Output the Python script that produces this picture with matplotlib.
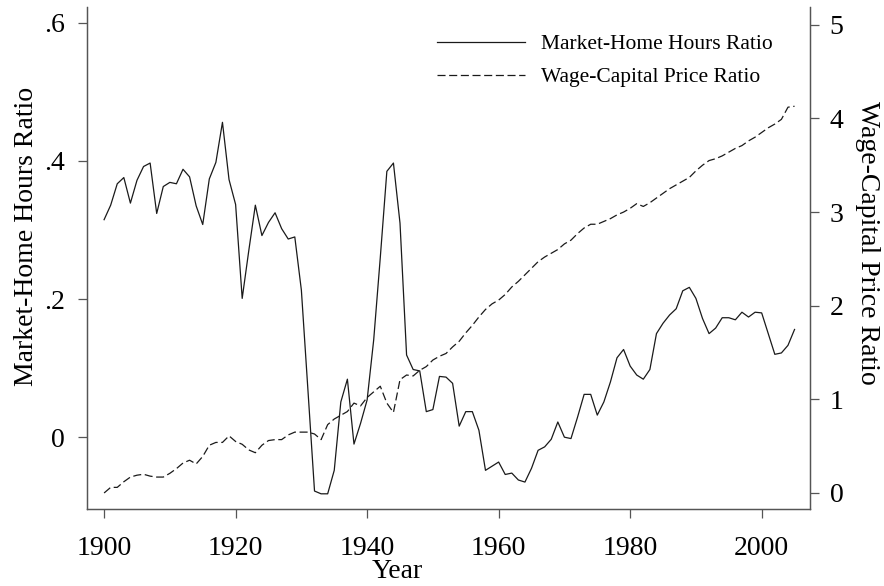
import matplotlib
matplotlib.use("Agg")
import matplotlib.pyplot as plt

plt.rcParams['font.family'] = ['Liberation Serif', 'DejaVu Serif']
plt.rcParams['lines.scale_dashes'] = False

years = list(range(1900, 2006))

# market-home hours ratio (left axis)
hours_ratio = [
    0.315, 0.336, 0.367, 0.376, 0.339, 0.372, 0.392, 0.397, 0.324, 0.363,  # 1900s
    0.369, 0.367, 0.388, 0.377, 0.335, 0.308, 0.374, 0.398, 0.456, 0.373,  # 1910s
    0.337, 0.201, 0.270, 0.336, 0.292, 0.311, 0.325, 0.302, 0.287, 0.290,  # 1920s
    0.213, 0.068, -0.078, -0.082, -0.082, -0.048, 0.051, 0.084, -0.010, 0.020,  # 1930s
    0.054, 0.141, 0.260, 0.385, 0.397, 0.310, 0.119, 0.098, 0.096, 0.037,  # 1940s
    0.040, 0.088, 0.087, 0.078, 0.016, 0.037, 0.037, 0.010, -0.048, -0.042,  # 1950s
    -0.036, -0.054, -0.052, -0.062, -0.065, -0.045, -0.019, -0.014, -0.003, 0.022,  # 1960s
    0.000, -0.002, 0.029, 0.062, 0.062, 0.032, 0.051, 0.080, 0.115, 0.127,  # 1970s
    0.103, 0.090, 0.084, 0.098, 0.150, 0.165, 0.177, 0.186, 0.212, 0.217,  # 1980s
    0.201, 0.172, 0.150, 0.158, 0.173, 0.173, 0.170, 0.181, 0.174, 0.181,  # 1990s
    0.180, 0.150, 0.120, 0.122, 0.133, 0.156,  # 2000s
]

# wage-capital price ratio (right axis)
wage_ratio = [
    0.00, 0.06, 0.06, 0.12, 0.17, 0.19, 0.20, 0.18, 0.17, 0.17,
    0.21, 0.26, 0.32, 0.35, 0.31, 0.39, 0.51, 0.54, 0.54, 0.61,
    0.55, 0.52, 0.46, 0.43, 0.51, 0.56, 0.57, 0.57, 0.62, 0.65,
    0.65, 0.65, 0.63, 0.57, 0.73, 0.79, 0.83, 0.87, 0.96, 0.93,
    1.02, 1.08, 1.14, 0.96, 0.86, 1.21, 1.26, 1.25, 1.31, 1.35,
    1.42, 1.46, 1.49, 1.56, 1.62, 1.71, 1.79, 1.88, 1.96, 2.02,
    2.06, 2.12, 2.20, 2.26, 2.33, 2.40, 2.47, 2.52, 2.56, 2.60,
    2.66, 2.70, 2.77, 2.83, 2.87, 2.87, 2.90, 2.93, 2.97, 3.00,
    3.04, 3.09, 3.06, 3.10, 3.15, 3.20, 3.25, 3.29, 3.33, 3.37,
    3.44, 3.50, 3.55, 3.57, 3.60, 3.64, 3.68, 3.71, 3.76, 3.80,
    3.85, 3.90, 3.94, 3.99, 4.12, 4.13,
]

left_ticks = [0, 0.2, 0.4, 0.6]
left_labels = ['0', '.2', '.4', '.6']
right_ticks = [0, 1, 2, 3, 4, 5]
x_ticks = [1900, 1920, 1940, 1960, 1980, 2000]

fig = plt.figure(figsize=(8.84, 5.86), dpi=100)
ax = fig.add_axes([87 / 884, 77 / 586, 723 / 884, 502 / 586])
ax2 = ax.twinx()

l1, = ax.plot(years, hours_ratio, color='#1a1a1a', lw=0.9, label='Market-Home Hours Ratio')
l2, = ax2.plot(years, wage_ratio, color='#1a1a1a', lw=0.9, dashes=(5.8, 2.6),
               label='Wage-Capital Price Ratio')

ax.set_xlim(1897.4, 2007.35)
ax.set_ylim(-0.104, 0.623)
ax2.set_ylim(-0.171, 5.19)

ax.set_xticks(x_ticks)
ax.set_yticks(left_ticks)
ax.set_yticklabels(left_labels)
ax2.set_yticks(right_ticks)

for a in (ax, ax2):
    a.spines['top'].set_visible(False)
    for s in a.spines.values():
        s.set_color('#555555')
        s.set_linewidth(0.9)
    a.tick_params(direction='out', length=6.2, width=0.9, color='#555555',
                  labelsize=20)
ax.tick_params(axis='x', pad=13)
ax.tick_params(axis='y', pad=10)
ax2.tick_params(axis='y', pad=8)

ax.set_xlabel('Year', fontsize=20)
ax.xaxis.set_label_coords(0.429, -0.10)
ax.set_ylabel('Market-Home Hours Ratio', fontsize=20, va='center')
ax.yaxis.set_label_coords(-0.083, 0.542)
ax2.set_ylabel('Wage-Capital Price Ratio', fontsize=20, rotation=270, va='center')
ax2.yaxis.set_label_coords(1.080, 0.53)

ax.legend([l1, l2], [l1.get_label(), l2.get_label()], loc='upper left',
          bbox_to_anchor=(0.484, 0.946), frameon=False, fontsize=15.5,
          handlelength=4.1, handletextpad=0.75, labelspacing=0.6,
          borderaxespad=0, borderpad=0)

fig.savefig('out.png', dpi=100)
